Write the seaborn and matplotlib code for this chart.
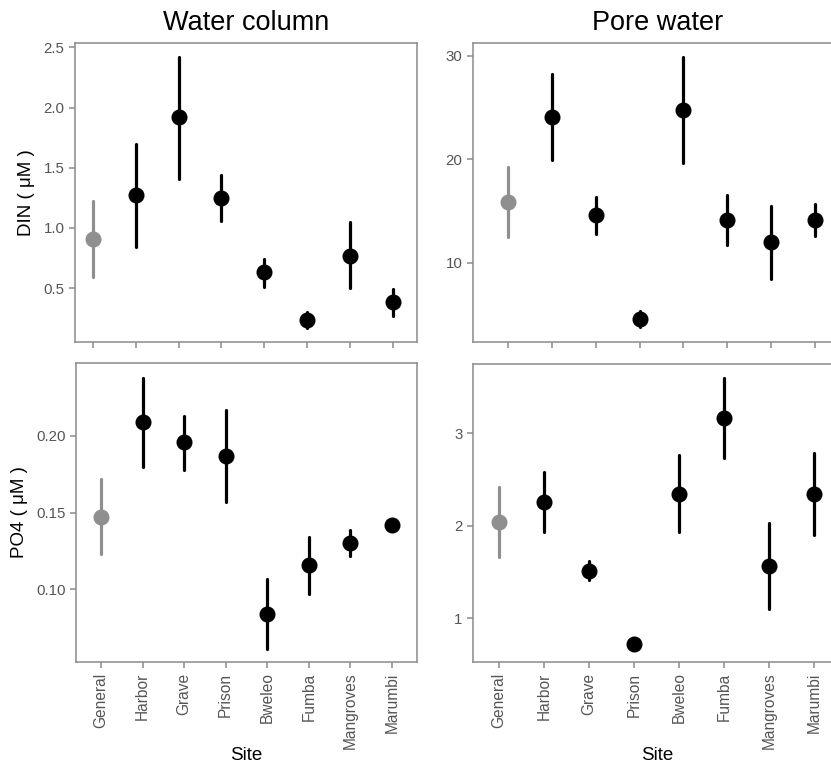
import pandas as pd
import matplotlib
matplotlib.use("Agg")
import matplotlib.pyplot as plt
import seaborn as sns

sites = ["General", "Harbor", "Grave", "Prison", "Bweleo", "Fumba", "Mangroves", "Marumbi"]
groups = ["ref", "site", "site", "site", "site", "site", "site", "site"]

din_wc_mean = [0.91, 1.27, 1.92, 1.25, 0.63, 0.235, 0.77, 0.385]
din_wc_lo = [0.59, 0.84, 1.41, 1.06, 0.51, 0.17, 0.50, 0.27]
din_wc_hi = [1.22, 1.70, 2.42, 1.44, 0.74, 0.30, 1.05, 0.49]

din_pw_mean = [15.9, 24.1, 14.6, 4.6, 24.8, 14.1, 12.0, 14.1]
din_pw_lo = [12.5, 19.9, 12.8, 3.8, 19.6, 11.7, 8.5, 12.6]
din_pw_hi = [19.3, 28.2, 16.4, 5.4, 29.9, 16.6, 15.5, 15.7]

po4_wc_mean = [0.147, 0.209, 0.196, 0.187, 0.084, 0.116, 0.130, 0.142]
po4_wc_lo = [0.123, 0.180, 0.178, 0.157, 0.061, 0.097, 0.122, 0.138]
po4_wc_hi = [0.172, 0.238, 0.213, 0.217, 0.107, 0.134, 0.139, 0.146]

po4_pw_mean = [2.04, 2.26, 1.51, 0.72, 2.34, 3.16, 1.56, 2.34]
po4_pw_lo = [1.66, 1.93, 1.41, 0.70, 1.93, 2.73, 1.10, 1.90]
po4_pw_hi = [2.42, 2.58, 1.62, 0.75, 2.76, 3.60, 2.03, 2.78]


def long_frame(mean, lo, hi):
    # three rows per site so that median = mean and the 100% interval = lo..hi
    rows = []
    for s, g, m, l, h in zip(sites, groups, mean, lo, hi):
        for v in (l, m, h):
            rows.append({"site": s, "group": g, "value": v})
    return pd.DataFrame(rows)


sns.set_style("ticks")
plt.rcParams["font.family"] = ["Liberation Sans", "DejaVu Sans"]

W, H = 831, 771
fig = plt.figure(figsize=(W / 100, H / 100), dpi=100)


def px_axes(left, top, right, bottom):
    return fig.add_axes([left / W, 1 - bottom / H, (right - left) / W, (bottom - top) / H])


panels = [
    # (data, box in px, xlim, ylim, yticks, fmt)
    ((din_wc_mean, din_wc_lo, din_wc_hi), (75, 43, 417, 342), (-0.42, 7.57), (0.052, 2.536),
     [0.5, 1.0, 1.5, 2.0, 2.5], "{:.1f}"),
    ((din_pw_mean, din_pw_lo, din_pw_hi), (473, 43, 842, 342), (-0.8, 7.62), (2.38, 31.22),
     [10, 20, 30], "{:.0f}"),
    ((po4_wc_mean, po4_wc_lo, po4_wc_hi), (76, 363, 417, 662), (-0.6, 7.6), (0.0526, 0.2476),
     [0.10, 0.15, 0.20], "{:.2f}"),
    ((po4_pw_mean, po4_pw_lo, po4_pw_hi), (473, 364, 842, 662), (-0.58, 7.62), (0.528, 3.746),
     [1, 2, 3], "{:.0f}"),
]

palette = {"ref": "#8f8f8f", "site": "black"}
axes = []
for i, (vals, box, xlim, ylim, yticks, fmt) in enumerate(panels):
    ax = px_axes(*box)
    df = long_frame(*vals)
    sns.pointplot(data=df, x="site", y="value", hue="group", order=sites,
                  hue_order=["ref", "site"], palette=palette,
                  estimator="median", errorbar=("pi", 100),
                  linestyle="none", markersize=9.5, err_kws={"linewidth": 2.3},
                  legend=False, ax=ax)
    ax.set_xlim(*xlim)
    ax.set_ylim(*ylim)
    ax.set_yticks(yticks)
    ax.set_yticklabels([fmt.format(t) for t in yticks])
    for sp in ax.spines.values():
        sp.set_visible(True)
        sp.set_color("#8a8a8a")
        sp.set_linewidth(1.1)
    ax.tick_params(axis="both", colors="#8a8a8a", labelcolor="#555555",
                   length=4, width=1.1)
    ax.tick_params(axis="y", labelsize=10.8)
    ax.set_xlabel("")
    ax.set_ylabel("")
    if i < 2:
        ax.set_xticklabels([])
    else:
        ax.set_xticks(range(len(sites)))
        ax.set_xticklabels(sites, rotation=90, fontsize=11.2)
        ax.set_xlabel("Site", fontsize=13.5, color="black")
        ax.xaxis.set_label_coords(0.5, -0.285)
    axes.append(ax)

axes[0].set_title("Water column", fontsize=19.5, pad=9, color="black")
axes[1].set_title("Pore water", fontsize=19.5, pad=9, color="black")
axes[0].set_ylabel("DIN ( μM )", fontsize=13.5, labelpad=6, color="black")
axes[2].set_ylabel("PO4 ( μM )", fontsize=13.5, labelpad=6, color="black")

fig.savefig("out.png", dpi=100, facecolor="white")
